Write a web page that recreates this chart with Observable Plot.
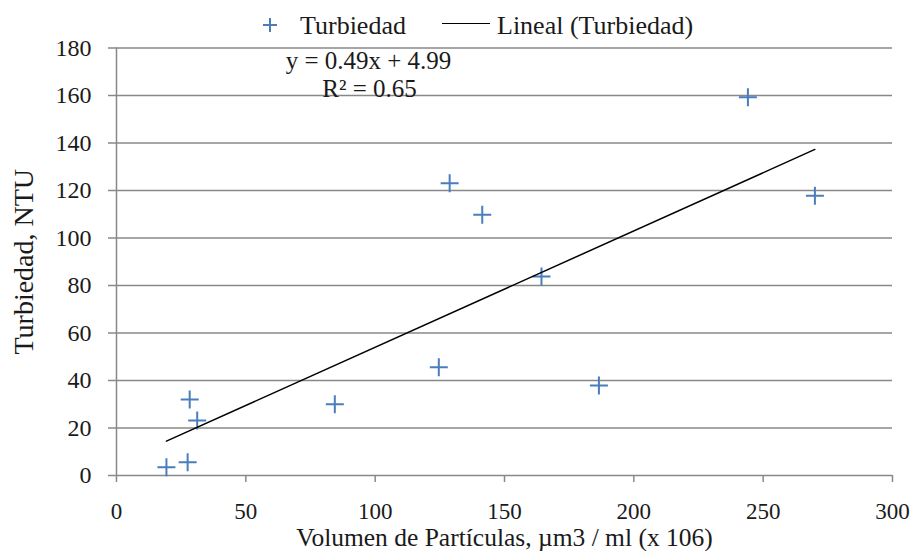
<!DOCTYPE html>
<html><head><meta charset="utf-8">
<script src="https://cdn.jsdelivr.net/npm/d3@7"></script>
<script src="https://cdn.jsdelivr.net/npm/@observablehq/plot@0.6"></script>
<style>
body{margin:0;background:#fff;font-family:'Liberation Serif','Times New Roman',serif;}
#wrap{position:relative;width:914px;height:551px;overflow:hidden;}
#legend{position:relative;height:40px;width:914px;font-size:26px;color:#1a1a1a;}
#legend .it{position:absolute;top:12px;line-height:28px;white-space:nowrap;}
#chart svg{overflow:visible;display:block;font-family:'Liberation Serif','Times New Roman',serif !important;}
#chart svg text{font-family:'Liberation Serif','Times New Roman',serif !important;}
</style></head><body>
<div id="wrap"><div id="legend"></div><div id="chart"></div></div>
<script>
const volumen   = [19.3, 27.5, 28.3, 31.2, 84.4, 124.6, 128.8, 141.4, 164.3, 186.5, 244.1, 270.0];
const turbiedad = [3.5, 5.6, 32.0, 23.2, 30.0, 45.6, 123.1, 109.8, 83.8, 37.9, 159.3, 117.8];
const xTicks = [0, 50, 100, 150, 200, 250, 300];
const yTicks = [0, 20, 40, 60, 80, 100, 120, 140, 160, 180];
const slope = 0.49, intercept = 4.99, r2 = 0.65;
const seriesName = "Turbiedad";
const trendName = "Lineal (Turbiedad)";
const xLabel = "Volumen de Partículas, µm3 / ml (x 106)";
const yLabel = "Turbiedad, NTU";
const blue = "#4a7ebb", grid = "#888888", ink = "#1a1a1a";
const serif = "Liberation Serif, Times New Roman, serif";

// Legend (HTML, above the SVG)
const lg = document.getElementById("legend");
lg.innerHTML =
  `<svg style="position:absolute;left:262px;top:17px" width="16" height="16"><path d="M1,8H15M8,1V15" stroke="${blue}" stroke-width="2" fill="none"/></svg>` +
  `<span class="it" style="left:300px">${seriesName}</span>` +
  `<div style="position:absolute;left:442px;top:23px;width:48px;border-top:1.5px solid #000"></div>` +
  `<span class="it" style="left:497px">${trendName}</span>`;

const data = volumen.map((v, i) => ({x: v, y: turbiedad[i]}));
const ext = d3.extent(volumen);
const trend = ext.map(x => ({x, y: slope * x + intercept}));
const cross = {
  draw(ctx, size) {
    const h = Math.sqrt(size / Math.PI);
    ctx.moveTo(-h, 0); ctx.lineTo(h, 0);
    ctx.moveTo(0, -h); ctx.lineTo(0, h);
  }
};

const chart = Plot.plot({
  width: 914, height: 511,
  marginTop: 7.5, marginBottom: 76, marginLeft: 116, marginRight: 22,
  style: {fontFamily: serif, background: "white", overflow: "visible"},
  x: {domain: [0, 300]},
  y: {domain: [0, 180]},
  marks: [
    Plot.ruleY(yTicks, {stroke: grid, strokeWidth: 1.5}),
    Plot.ruleX([0], {stroke: grid, strokeWidth: 1.5}),
    Plot.axisY({ticks: yTicks, tickSize: 8, tickPadding: 17, stroke: grid, strokeWidth: 1.5,
      fill: ink, fontSize: 24, fontFamily: serif, label: null, tickFormat: d => String(d)}),
    Plot.axisX({ticks: xTicks, tickSize: 7, tickPadding: 20, stroke: grid, strokeWidth: 1.5,
      fill: ink, fontSize: 23, fontFamily: serif, label: null, tickFormat: d => String(d)}),
    Plot.text([xLabel], {text: d => d, frameAnchor: "bottom", lineAnchor: "top", dy: 52.5, fontSize: 25.5, fontFamily: serif, fill: ink}),
    Plot.text([yLabel], {text: d => d, frameAnchor: "left", textAnchor: "middle", rotate: -90, lineAnchor: "top", dx: -103, fontSize: 28, fontFamily: serif, fill: ink}),
    Plot.text([`y = ${slope}x + ${intercept}`], {text: d => d, frameAnchor: "top-left", textAnchor: "middle", dx: 252, dy: 3.5, lineAnchor: "top", fontSize: 25, fontFamily: serif, fill: ink}),
    Plot.text([`R² = ${r2}`], {text: d => d, frameAnchor: "top-left", textAnchor: "middle", dx: 253, dy: 31, lineAnchor: "top", fontSize: 25, fontFamily: serif, fill: ink}),
    Plot.dot(data, {x: "x", y: "y", symbol: cross, r: 9, stroke: blue, strokeWidth: 2, fill: "none"}),
    Plot.line(trend, {x: "x", y: "y", stroke: "#000", strokeWidth: 1.5})
  ]
});
document.getElementById("chart").appendChild(chart);
</script>
</body></html>
